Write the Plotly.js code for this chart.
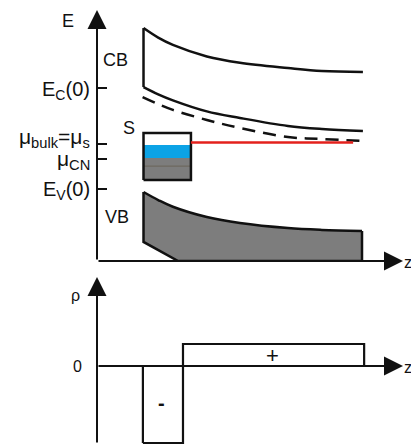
<!DOCTYPE html>
<html>
<head>
<meta charset="utf-8">
<script src="https://cdn.plot.ly/plotly-3.0.1.min.js"></script>
<style>html,body{margin:0;padding:0;background:#fff;}#chart{width:411px;height:444px;}</style>
</head>
<body>
<div id="chart"></div>
<script>
// ---- Top panel: band diagram (z, E in arbitrary units) ----
const zCBupper = [1.52, 2.00, 2.48, 3.59, 4.67, 6.24, 7.35, 8.69];
const eCBupper = [9.28, 8.90, 8.61, 8.15, 7.90, 7.69, 7.57, 7.53];
const zCBlower = [1.52, 2.00, 2.48, 3.59, 4.67, 6.24, 7.35, 8.69];
const eCBlower = [6.93, 6.64, 6.40, 5.96, 5.70, 5.38, 5.26, 5.18];
const zDashed = [1.49, 2.00, 2.48, 3.59, 4.67, 6.24, 7.35, 8.69];
const eDashed = [6.53, 6.25, 6.02, 5.62, 5.30, 4.94, 4.86, 4.78];
const zVBtop = [1.52, 2.00, 2.48, 3.59, 4.67, 6.24, 7.35, 8.66];
const eVBtop = [2.75, 2.43, 2.16, 1.75, 1.51, 1.31, 1.24, 1.20];
const zVBedge = [1.52, 1.52, 2.65, 8.66, 8.66];
const eVBedge = [2.75, 0.76, 0.00, 0.00, 1.20];

// surface-state box
const zBox = [1.52, 3.07];
const eBoxTop = 5.10, eBoxBottom = 3.23;
const eBlueTop = 4.62, eBlueBottom = 4.10;
const eBoxLine = 3.78;

// chemical potential line
const zMu = [3.07, 8.37];
const eMu = 4.72;

// energy tick levels and labels (label centres in page pixels)
const eTickVals = [6.89, 4.66, 4.06, 2.87];
const eTickText = ["E<sub>C</sub>(0)", "μ<sub>bulk</sub>=μ<sub>s</sub>", "μ<sub>CN</sub>", "E<sub>V</sub>(0)"];
const eTickLabelPx = [90, 138, 160, 191];

// ---- Bottom panel: charge density ----
const zRhoNeg = [1.50, 2.81];
const rhoNeg = -3.5;
const zRhoPos = [2.81, 8.73];
const rhoPos = 1.0;

const zMax = 10, eMax = 10, rhoMin = -3.545, rhoMax = 4.045;
const W = 411, H = 444;

const BLACK = '#111111';
const GRAY = '#7d7d7d';
const BLUE = '#0ca3e6';
const RED = '#e3211c';
const FONT = 'Liberation Sans, Arial, sans-serif';

function rect(z0, z1, y0, y1) {
  return {x: [z0, z1, z1, z0, z0], y: [y0, y0, y1, y1, y0]};
}

const traces = [];
// VB: straight edges (left, bottom diagonal, right) then smooth top filled to them
traces.push({
  x: zVBedge, y: eVBedge,
  mode: 'lines', line: {color: BLACK, width: 2.5, shape: 'linear'},
  xaxis: 'x', yaxis: 'y', hoverinfo: 'skip'
});
traces.push({
  x: zVBtop, y: eVBtop,
  mode: 'lines', fill: 'tonexty', fillcolor: GRAY,
  line: {color: BLACK, width: 2.5, shape: 'spline', smoothing: 1},
  xaxis: 'x', yaxis: 'y', hoverinfo: 'skip'
});
// CB left vertical edge
traces.push({
  x: [zCBlower[0], zCBupper[0]], y: [eCBlower[0], eCBupper[0]],
  mode: 'lines', line: {color: BLACK, width: 2.5},
  xaxis: 'x', yaxis: 'y', hoverinfo: 'skip'
});
traces.push({
  x: zCBupper, y: eCBupper,
  mode: 'lines', line: {color: BLACK, width: 2.5, shape: 'spline', smoothing: 1},
  xaxis: 'x', yaxis: 'y', hoverinfo: 'skip'
});
traces.push({
  x: zCBlower, y: eCBlower,
  mode: 'lines', line: {color: BLACK, width: 2.5, shape: 'spline', smoothing: 1},
  xaxis: 'x', yaxis: 'y', hoverinfo: 'skip'
});
traces.push({
  x: zDashed, y: eDashed,
  mode: 'lines', line: {color: BLACK, width: 2.5, dash: '13px,8px', shape: 'spline', smoothing: 1},
  xaxis: 'x', yaxis: 'y', hoverinfo: 'skip'
});
// box: gray part
let r = rect(zBox[0], zBox[1], eBoxBottom, eBlueBottom);
traces.push({x: r.x, y: r.y, mode: 'lines', fill: 'toself', fillcolor: GRAY, line: {width: 0}, xaxis: 'x', yaxis: 'y', hoverinfo: 'skip'});
r = rect(zBox[0], zBox[1], eBlueBottom, eBlueTop);
traces.push({x: r.x, y: r.y, mode: 'lines', fill: 'toself', fillcolor: BLUE, line: {width: 0}, xaxis: 'x', yaxis: 'y', hoverinfo: 'skip'});
traces.push({x: zBox, y: [eBoxLine, eBoxLine], mode: 'lines', line: {color: '#6b6459', width: 1}, xaxis: 'x', yaxis: 'y', hoverinfo: 'skip'});
r = rect(zBox[0], zBox[1], eBoxBottom, eBoxTop);
traces.push({x: r.x, y: r.y, mode: 'lines', line: {color: BLACK, width: 2.5}, xaxis: 'x', yaxis: 'y', hoverinfo: 'skip'});
// red mu line
traces.push({x: zMu, y: [eMu, eMu], mode: 'lines', line: {color: RED, width: 2.5}, xaxis: 'x', yaxis: 'y', hoverinfo: 'skip'});

// bottom rectangles
r = rect(zRhoNeg[0], zRhoNeg[1], rhoNeg, 0);
traces.push({x: r.x, y: r.y, mode: 'lines', line: {color: BLACK, width: 2.2}, xaxis: 'x2', yaxis: 'y2', hoverinfo: 'skip'});
r = rect(zRhoPos[0], zRhoPos[1], 0, rhoPos);
traces.push({x: r.x, y: r.y, mode: 'lines', line: {color: BLACK, width: 2.2}, xaxis: 'x2', yaxis: 'y2', hoverinfo: 'skip'});

function arrow(xref, yref, x0, y0, x1, y1) {
  return {xref: xref, yref: yref, axref: xref, ayref: yref, x: x1, y: y1, ax: x0, ay: y0,
    text: '', showarrow: true, arrowhead: 2, arrowsize: 1.9, arrowwidth: 2, arrowcolor: BLACK, standoff: 0, startstandoff: 0};
}
function label(xref, yref, x, y, text, size, xanchor) {
  return {xref: xref, yref: yref, x: x, y: y, text: text, showarrow: false,
    xanchor: xanchor || 'center', yanchor: 'middle', font: {family: FONT, size: size, color: BLACK}};
}
function plabel(px, py, text, size, xanchor) {
  return label('paper', 'paper', px / W, 1 - py / H, text, size, xanchor);
}

const annotations = [
  arrow('x', 'y', 0, 0, 0, eMax),
  arrow('x', 'y', 0, 0, zMax, 0),
  arrow('x2', 'y2', 0, rhoMin, 0, rhoMax),
  arrow('x2', 'y2', 0, 0, zMax, 0),
  plabel(68, 21, 'E', 18),
  label('x', 'y', 0.62, 8.0, 'CB', 18),
  label('x', 'y', 1.05, 5.3, 'S', 18),
  label('x', 'y', 0.65, 1.75, 'VB', 18),
  plabel(402, 262, 'z', 16, 'left'),
  plabel(75, 295, 'ρ', 16),
  plabel(77, 366, '0', 16),
  label('x2', 'y2', 5.75, 0.5, '+', 22),
  label('x2', 'y2', 2.12, -1.68, '<b>-</b>', 20),
  plabel(402, 367, 'z', 16, 'left')
];
const tickFontSizes = [20, 21, 21, 20];
for (let i = 0; i < eTickText.length; i++) {
  annotations.push(plabel(92, eTickLabelPx[i], eTickText[i], tickFontSizes[i], 'right'));
}

const xDomain = [97 / W, 403 / W];
const layout = {
  width: W, height: H,
  margin: {l: 0, r: 0, t: 0, b: 0},
  paper_bgcolor: '#ffffff', plot_bgcolor: 'rgba(0,0,0,0)',
  showlegend: false,
  font: {family: FONT, color: BLACK},
  xaxis: {domain: xDomain, range: [0, zMax], showgrid: false, zeroline: false, showticklabels: false, showline: false, ticks: '', fixedrange: true},
  yaxis: {domain: [(H - 261) / H, (H - 10) / H], range: [0, eMax], anchor: 'x',
    showgrid: false, zeroline: false, showline: false, showticklabels: false,
    ticks: 'inside', tickvals: eTickVals, ticklen: 10, tickwidth: 2.2, tickcolor: BLACK, fixedrange: true},
  xaxis2: {domain: xDomain, range: [0, zMax], anchor: 'y2', showgrid: false, zeroline: false, showticklabels: false, showline: false, ticks: '', fixedrange: true},
  yaxis2: {domain: [0, (H - 277) / H], range: [rhoMin, rhoMax], anchor: 'x2',
    showgrid: false, zeroline: false, showline: false, showticklabels: false, ticks: '', fixedrange: true},
  annotations: annotations
};

Plotly.newPlot('chart', traces, layout, {staticPlot: true, displayModeBar: false});
</script>
</body>
</html>
